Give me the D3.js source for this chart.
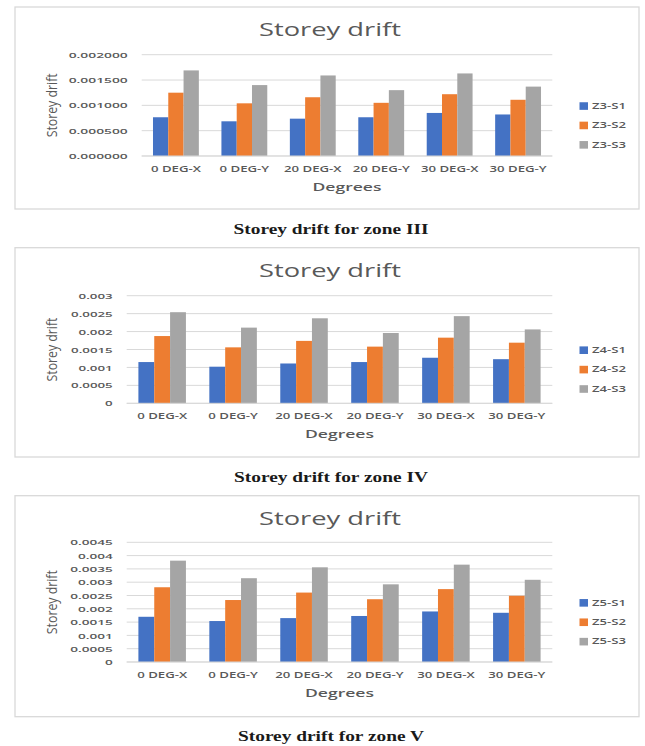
<!DOCTYPE html>
<html>
<head>
<meta charset="utf-8">
<script src="https://cdn.jsdelivr.net/npm/d3@7"></script>
<style>
  html, body { margin: 0; padding: 0; background: #fff; }
  svg { display: block; }
</style>
</head>
<body>
<svg id="fig" width="645" height="746"></svg>
<script>
// Load directions shared by all three zone charts
const categories = ["0 DEG-X", "0 DEG-Y", "20 DEG-X", "20 DEG-Y", "30 DEG-X", "30 DEG-Y"];

// Zone III
const zone3Series = ["Z3-S1", "Z3-S2", "Z3-S3"];
const zone3S1 = [0.000765, 0.000685, 0.000737, 0.000765, 0.00085, 0.00082];
const zone3S2 = [0.00125, 0.00104, 0.00116, 0.00105, 0.00122, 0.00111];
const zone3S3 = [0.00169, 0.00140, 0.00159, 0.00130, 0.00163, 0.00137];
const zone3Ticks = ["0.000000", "0.000500", "0.001000", "0.001500", "0.002000"];

// Zone IV
const zone4Series = ["Z4-S1", "Z4-S2", "Z4-S3"];
const zone4S1 = [0.00115, 0.00102, 0.00111, 0.00115, 0.00127, 0.00123];
const zone4S2 = [0.001875, 0.00156, 0.00174, 0.00158, 0.00183, 0.00169];
const zone4S3 = [0.00254, 0.00211, 0.00237, 0.00196, 0.00243, 0.00206];
const zone4Ticks = ["0", "0.0005", "0.001", "0.0015", "0.002", "0.0025", "0.003"];

// Zone V
const zone5Series = ["Z5-S1", "Z5-S2", "Z5-S3"];
const zone5S1 = [0.0017, 0.00154, 0.00165, 0.00173, 0.0019, 0.00185];
const zone5S2 = [0.00281, 0.00233, 0.00261, 0.00236, 0.00274, 0.00249];
const zone5S3 = [0.00381, 0.00315, 0.00356, 0.00292, 0.00366, 0.00309];
const zone5Ticks = ["0", "0.0005", "0.001", "0.0015", "0.002", "0.0025", "0.003", "0.0035", "0.004", "0.0045"];

const chartTitle = "Storey drift";
const xTitle = "Degrees";
const yTitle = "Storey drift";
const captions = ["Storey drift for zone III", "Storey drift for zone IV", "Storey drift for zone V"];

const colors = ["#4472C4", "#ED7D31", "#A5A5A5"];
const textGrey = "#595959";
const sans = "'Open Sans', 'Liberation Sans', sans-serif";
const serif = "'Liberation Serif', 'DejaVu Serif', serif";

const charts = [
  { series: zone3Series, values: [zone3S1, zone3S2, zone3S3], ticks: zone3Ticks, caption: captions[0],
    frame: [15, 7, 639, 209], plot: [141.7, 54.7, 552.3, 156], tickRef: "0.002000", tickW: 59, capY: 229 },
  { series: zone4Series, values: [zone4S1, zone4S2, zone4S3], ticks: zone4Ticks, caption: captions[1],
    frame: [15, 247.7, 639, 457], plot: [126.7, 295.7, 552.3, 403.3], tickRef: "0.0025", tickW: 41.7, capY: 476.7 },
  { series: zone5Series, values: [zone5S1, zone5S2, zone5S3], ticks: zone5Ticks, caption: captions[2],
    frame: [15, 495.7, 639, 716.7], plot: [126.7, 542.3, 552.3, 662], tickRef: "0.0045", tickW: 42.5, capY: 736 }
];

const svg = d3.select("#fig");
svg.append("rect").attr("width", 645).attr("height", 746).attr("fill", "#fff");

// Natural width of a string in a given font
function naturalWidth(str, size, weight, family) {
  const t = svg.append("text")
    .attr("font-family", family).attr("font-size", size).attr("font-weight", weight)
    .text(str);
  const w = t.node().getComputedTextLength();
  t.remove();
  return w;
}
// Scale glyphs horizontally by a factor k
function stretch(sel, k) {
  sel.each(function () {
    const w = this.getComputedTextLength();
    this.setAttribute("textLength", w * k);
    this.setAttribute("lengthAdjust", "spacingAndGlyphs");
  });
}

const kTitle = 142 / naturalWidth(chartTitle, 18, 400, sans);
const kX = 50 / naturalWidth("0 DEG-X", 8, 600, sans);
const kXTitle = 69 / naturalWidth(xTitle, 11.5, 600, sans);
const kLegend = 34 / naturalWidth("Z3-S1", 8, 600, sans);
const kYTitle = 64 / naturalWidth(yTitle, 15, 400, sans);
const kCap = 195 / naturalWidth(captions[0], 15, 700, serif);

charts.forEach(c => {
  const [fx0, fy0, fx1, fy1] = c.frame;
  const [px0, py0, px1, py1] = c.plot;
  const g = svg.append("g");

  // chart frame
  g.append("rect")
    .attr("x", fx0).attr("y", fy0).attr("width", fx1 - fx0).attr("height", fy1 - fy0)
    .attr("fill", "#fff").attr("stroke", "#d9d9d9").attr("stroke-width", 1.3);

  const tickVals = c.ticks.map(Number);
  const yMax = d3.max(tickVals);
  const y = d3.scaleLinear().domain([0, yMax]).range([py1, py0]);
  const x = d3.scaleBand().domain(categories).range([px0, px1]).paddingInner(0.33).paddingOuter(0.165);
  const xs = d3.scaleBand().domain(c.series).range([0, x.bandwidth()]);

  // gridlines
  g.append("g").selectAll("line").data(tickVals).join("line")
    .attr("x1", px0).attr("x2", px1)
    .attr("y1", d => y(d)).attr("y2", d => y(d))
    .attr("stroke", "#d9d9d9").attr("stroke-width", 1);

  // y axis labels
  const kY = c.tickW / naturalWidth(c.tickRef, 7.5, 600, sans);
  const yAxis = g.append("g").attr("transform", `translate(${px0},0)`)
    .call(d3.axisLeft(y).tickValues(tickVals).tickSize(0).tickPadding(14)
      .tickFormat((d, i) => c.ticks[i]));
  yAxis.select(".domain").remove();
  yAxis.selectAll("text")
    .attr("font-family", sans).attr("font-size", 7.5).attr("font-weight", 600)
    .attr("fill", textGrey).attr("dy", "0.35em");
  stretch(yAxis.selectAll("text"), kY);

  // bars
  const rows = categories.map((cat, i) => ({ cat, vals: c.series.map((s, j) => ({ s, j, v: c.values[j][i] })) }));
  g.append("g").selectAll("g").data(rows).join("g")
    .attr("transform", d => `translate(${x(d.cat)},0)`)
    .selectAll("rect").data(d => d.vals).join("rect")
      .attr("x", d => xs(d.s)).attr("width", xs.bandwidth())
      .attr("y", d => y(d.v)).attr("height", d => y(0) - y(d.v))
      .attr("fill", d => colors[d.j]);

  // x axis baseline and labels
  g.append("line").attr("x1", px0).attr("x2", px1).attr("y1", py1).attr("y2", py1)
    .attr("stroke", "#d9d9d9").attr("stroke-width", 1);
  const xAxis = g.append("g").attr("transform", `translate(0,${py1})`)
    .call(d3.axisBottom(x).tickSize(0).tickPadding(10));
  xAxis.select(".domain").remove();
  xAxis.selectAll("text")
    .attr("font-family", sans).attr("font-size", 8).attr("font-weight", 600)
    .attr("fill", textGrey);
  stretch(xAxis.selectAll("text"), kX);

  // chart title
  const title = g.append("text")
    .attr("x", 330).attr("y", fy0 + 29).attr("text-anchor", "middle")
    .attr("font-family", sans).attr("font-size", 18).attr("fill", textGrey)
    .text(chartTitle);
  stretch(title, kTitle);

  // axis titles
  const xt = g.append("text")
    .attr("x", (px0 + px1) / 2).attr("y", py1 + 34.7).attr("text-anchor", "middle")
    .attr("font-family", sans).attr("font-size", 11.5).attr("font-weight", 600).attr("fill", textGrey)
    .text(xTitle);
  stretch(xt, kXTitle);

  const yt = g.append("text")
    .attr("transform", `translate(57,${(py0 + py1) / 2}) rotate(-90)`)
    .attr("text-anchor", "middle")
    .attr("font-family", sans).attr("font-size", 15).attr("fill", textGrey)
    .text(yTitle);
  stretch(yt, kYTitle);

  // legend
  const ly0 = (py0 + py1) / 2 + 0.7;
  const leg = g.append("g").selectAll("g").data(c.series).join("g")
    .attr("transform", (d, i) => `translate(579.5,${ly0 + i * 19.4})`);
  leg.append("rect").attr("x", 0).attr("y", -3.8).attr("width", 8.5).attr("height", 7.6)
    .attr("fill", (d, i) => colors[i]);
  const lt = leg.append("text").attr("x", 12.5).attr("dy", "0.35em")
    .attr("font-family", sans).attr("font-size", 8).attr("font-weight", 600).attr("fill", textGrey)
    .text(d => d);
  stretch(lt, kLegend);

  // caption below the frame
  const cap = svg.append("text")
    .attr("x", 331).attr("y", c.capY).attr("dy", "0.35em").attr("text-anchor", "middle")
    .attr("font-family", serif).attr("font-size", 15).attr("font-weight", 700).attr("fill", "#1a1a1a")
    .text(c.caption);
  stretch(cap, kCap);
});
</script>
</body>
</html>
